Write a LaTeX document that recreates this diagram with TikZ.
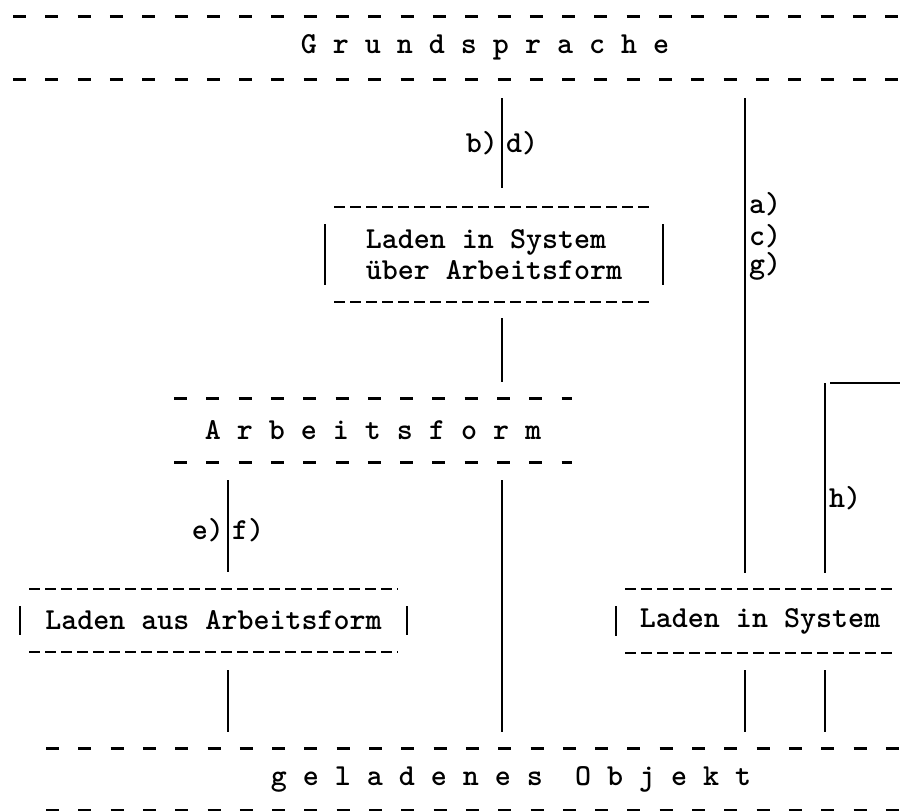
\documentclass[tikz,border=0pt]{standalone}
\usetikzlibrary{calc}
\newcommand\mybandlines[1]{%
  \draw[ldash] (#1.north west) -- (#1.north east);
  \draw[ldash] (#1.south west) -- (#1.south east);}
\newcommand\mytypeframe[1]{%
  \draw[bdash] ([xshift=9pt]#1.north west) -- ([xshift=-9pt]#1.north east);
  \draw[bdash] ([xshift=9pt]#1.south west) -- ([xshift=-9pt]#1.south east);
  \draw[bar] ([yshift=-17pt]#1.north west) -- ([yshift=17pt]#1.south west);
  \draw[bar] ([yshift=-17pt]#1.north east) -- ([yshift=17pt]#1.south east);}
\begin{document}
\begin{tikzpicture}[x=1pt,y=-1pt,
  every node/.style={font=\fontsize{30.5}{31}\selectfont\ttfamily\bfseries, inner sep=0pt, outer sep=0pt},
  layer/.style={rectangle},
  tbox/.style={rectangle, align=left},
  ldash/.style={line width=3pt, dash pattern=on 13pt off 19.3pt},
  bdash/.style={line width=2.8pt, dash pattern=on 11pt off 5pt},
  bar/.style={line width=2.3pt},
  conn/.style={line width=2.3pt},
  lab/.style={inner xsep=4pt}
]
\useasboundingbox (0,0) rectangle (900,811);
\clip (0,0) rectangle (900,811);

% column positions
\coordinate (c1) at (228,0);
\coordinate (c2) at (502,0);
\coordinate (c3) at (745,0);
\coordinate (c4) at (825,0);

% layers
\node[layer, minimum width=944pt, minimum height=63pt] (grund) at (485,47.5) {G r u n d s p r a c h e};
\node[layer, minimum width=398pt, minimum height=64pt] (arbeit) at (373,430) {A r b e i t s f o r m};
\node[layer, minimum width=930pt, minimum height=62pt] (objekt) at (511,779) {g e l a d e n e s\ \ O b j e k t};
\mybandlines{grund}
\mybandlines{arbeit}
\mybandlines{objekt}

% boxes
\node[tbox, minimum width=338pt, minimum height=95pt] (box1) at (494,254.5) {Laden in System\\über Arbeitsform};
\node[tbox, minimum width=387pt, minimum height=63pt] (ladenaus) at (213.5,620.5) {Laden aus Arbeitsform};
\node[tbox, minimum width=288pt, minimum height=64pt] (ladensys) at (760,621) {Laden in System};
\mytypeframe{box1}
\mytypeframe{ladenaus}
\mytypeframe{ladensys}

% connectors
\draw[conn] ($(grund.south -| c2)+(0,19)$) -- node[left,lab]{b)} node[right,lab]{d)} ($(box1.north -| c2)+(0,-19)$);
\draw[conn] ($(box1.south -| c2)+(0,16)$) -- ($(arbeit.north -| c2)+(0,-16)$);
\draw[conn] ($(arbeit.south -| c2)+(0,18)$) -- ($(objekt.north -| c2)+(0,-16)$);
\draw[conn] ($(arbeit.south -| c1)+(0,18)$) -- node[pos=0.55,left,lab]{e)} node[pos=0.55,right,lab]{f)} ($(ladenaus.north -| c1)+(0,-17)$);
\draw[conn] ($(ladenaus.south -| c1)+(0,18)$) -- ($(objekt.north -| c1)+(0,-16)$);
\draw[conn] ($(grund.south -| c3)+(0,19)$) -- node[pos=0.223,right,lab]{a)} node[pos=0.29,right,lab]{c)} node[pos=0.355,right,lab]{g)} ($(ladensys.north -| c3)+(0,-16)$);
\coordinate (hcorner) at (825,383);
\coordinate (hend) at (900,383);
\draw[conn] (hcorner) -- node[pos=0.605,right,lab]{h)} ($(ladensys.north -| c4)+(0,-16)$);
\draw[conn] ([xshift=5pt]hcorner) -- (hend);
\draw[conn] ($(ladensys.south -| c3)+(0,17)$) -- ($(objekt.north -| c3)+(0,-16)$);
\draw[conn] ($(ladensys.south -| c4)+(0,17)$) -- ($(objekt.north -| c4)+(0,-16)$);
\end{tikzpicture}
\end{document}
